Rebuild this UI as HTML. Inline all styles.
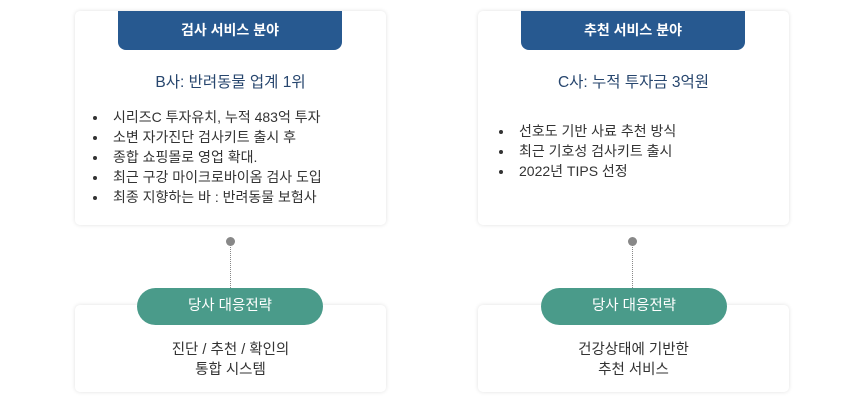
<!DOCTYPE html>
<html><head><meta charset="utf-8"><style>
body{margin:0;width:868px;height:405px;background:#fff;position:relative;font-family:"Liberation Sans","Noto Sans CJK KR",sans-serif;overflow:hidden}
.card{position:absolute;background:#fff;border-radius:5px;box-shadow:0 0 4px rgba(0,0,0,0.12)}
.tab{position:absolute;background:#275990;color:#fff;font-weight:bold;font-size:14px;text-align:center;line-height:39px;border-radius:0 0 8px 8px;top:11px;height:39px}
.title{position:absolute;font-size:15.5px;color:#27466e;text-align:center;width:311px}
ul{position:absolute;margin:0;padding:0;list-style:none;font-size:14px;color:#333;line-height:20px}
ul li{position:relative;padding-left:22px}
ul li:before{content:"";position:absolute;left:2px;top:9px;width:4px;height:4px;border-radius:50%;background:#333}
.dot{position:absolute;width:9px;height:9px;border-radius:50%;background:#888;top:237px}
.line{position:absolute;top:244px;height:44px;border-left:1.5px dotted #888}
.pill{position:absolute;top:288px;height:37px;width:186px;border-radius:19px;background:#4a9b8a;color:#fff;font-size:14.5px;text-align:center;line-height:37px}
.low{position:absolute;font-size:14.5px;color:#333;text-align:center;width:311px;line-height:20px;top:340px}
</style></head><body>
<div class="card" style="left:75px;top:11px;width:311px;height:214px"></div>
<div class="card" style="left:478px;top:11px;width:311px;height:214px"></div>
<div class="tab" style="left:118px;width:224px">검사 서비스 분야</div>
<div class="tab" style="left:521px;width:224px">추천 서비스 분야</div>
<div class="title" style="left:75px;top:70px">B사: 반려동물 업계 1위</div>
<div class="title" style="left:478px;top:70px">C사: 누적 투자금 3억원</div>
<ul style="left:91px;top:107px">
<li>시리즈C 투자유치, 누적 483억 투자</li>
<li>소변 자가진단 검사키트 출시 후</li>
<li>종합 쇼핑몰로 영업 확대.</li>
<li>최근 구강 마이크로바이옴 검사 도입</li>
<li>최종 지향하는 바 : 반려동물 보험사</li>
</ul>
<ul style="left:497px;top:121px">
<li>선호도 기반 사료 추천 방식</li>
<li>최근 기호성 검사키트 출시</li>
<li>2022년 TIPS 선정</li>
</ul>
<div class="card" style="left:75px;top:305px;width:311px;height:87px"></div>
<div class="card" style="left:478px;top:305px;width:311px;height:87px"></div>
<div class="dot" style="left:226px"></div><div class="line" style="left:230px"></div>
<div class="dot" style="left:628px"></div><div class="line" style="left:632px"></div>
<div class="pill" style="left:137px">당사 대응전략</div>
<div class="pill" style="left:541px">당사 대응전략</div>
<div class="low" style="left:75px">진단 / 추천 / 확인의<br>통합 시스템</div>
<div class="low" style="left:478px">건강상태에 기반한<br>추천 서비스</div>
</body></html>
